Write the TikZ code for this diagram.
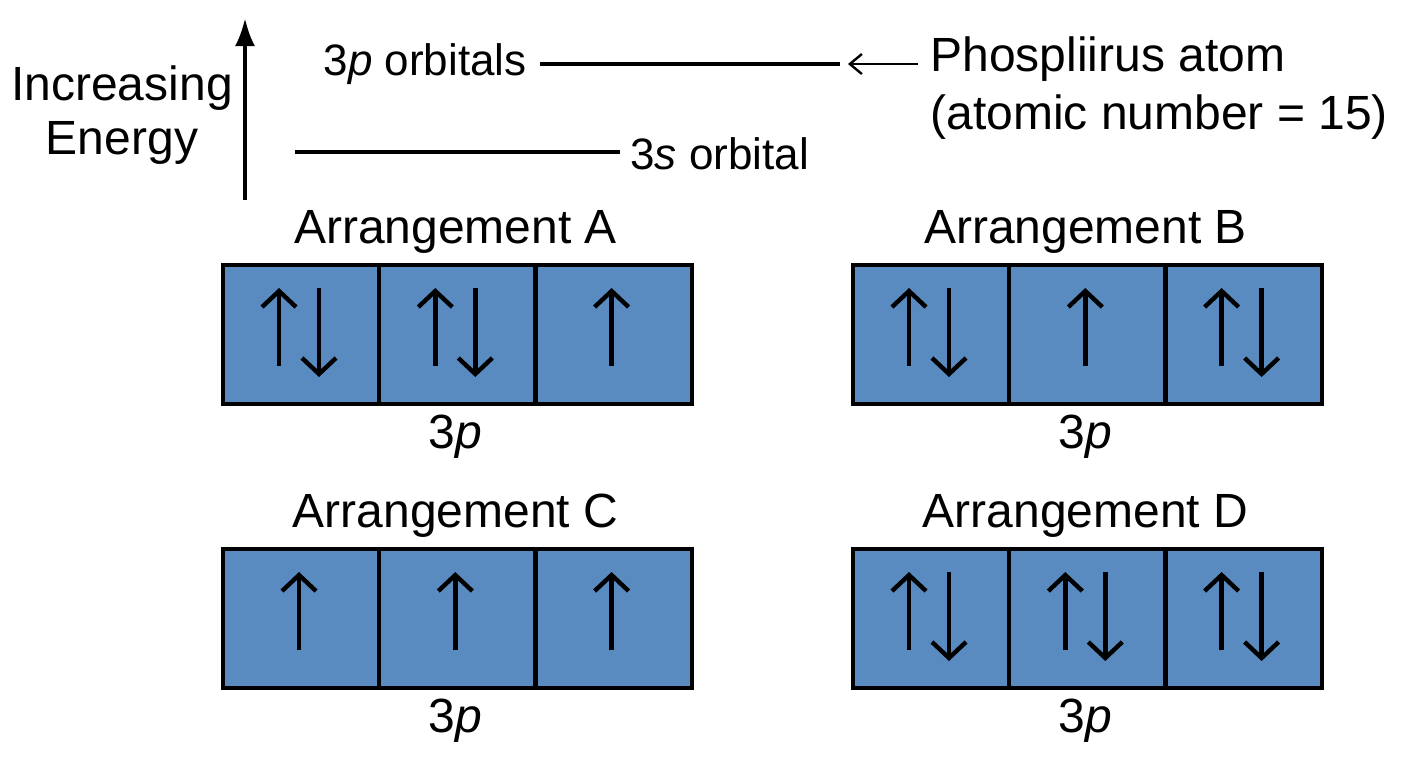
\documentclass[tikz,border=0pt]{standalone}
\usepackage{fontspec}
\setmainfont{Liberation Sans}
\usetikzlibrary{arrows.meta}
\definecolor{orb}{HTML}{5A8BC0}
\begin{document}
\begin{tikzpicture}[x=0.5pt,y=-0.5pt,
  lbl/.style={font=\fontsize{24}{26}\selectfont,inner sep=0pt},
  sml/.style={font=\fontsize{22}{24}\selectfont,inner sep=0pt},
  box/.style={draw=black,line width=2pt,fill=orb,minimum width=78pt,minimum height=69.5pt,inner sep=0pt},
  spin/.style={line width=2.2pt,-{Straight Barb[length=8pt,width=17pt,line width=2.2pt]}},
  lev/.style={line width=1.6pt}]
\useasboundingbox (0,0) rectangle (1408,768);
% energy axis
\coordinate (eb) at (245,200); \coordinate (et) at (245,18);
\draw[line width=2pt,-{Latex[length=14pt,width=10pt]}] (eb) -- (et);
\node[lbl,align=center] (en) at (122,115) {Increasing\\[1pt]Energy};
% levels
\node[sml,anchor=east] (p3) at (527,64) {3\textit{p} orbitals};
\coordinate (p3a) at (540,64); \coordinate (p3b) at (840,64);
\draw[lev] (p3a) -- (p3b);
\coordinate (s3a) at (295,152); \coordinate (s3b) at (620,152);
\draw[lev] (s3a) -- (s3b);
\node[sml,anchor=west] (s3) at (630,154) {3\textit{s} orbital};
\node[lbl,anchor=west,align=left] (ph) at (930,88) {Phospliirus atom\\[3pt](atomic number = 15)};
\coordinate (pa) at (918,64);
\draw[line width=1.2pt,-{Straight Barb[length=6pt,width=10pt]}] (pa) -- (848,64);
% arrangements
\foreach \nm/\x/\y/\lab/\cfg in {A/221/263/A/{2,2,1},B/851/263/B/{2,1,2},C/221/547/C/{1,1,1},D/851/547/D/{2,2,2}}{
  \node[lbl] (t\nm) at (\x+234.5,\y-31) {Arrangement \lab};
  \node[lbl] (q\nm) at (\x+234.5,\y+174) {3\textit{p}};
  \foreach \k [count=\i from 0] in \cfg {
    \node[box,anchor=north west] (b\nm\i) at (\x+\i*156.3,\y) {};
    \pgfmathsetmacro{\cx}{\x+\i*156.3+78}
    \ifnum\k=2
      \draw[spin] (\cx-20,\y+103) -- (\cx-20,\y+25);
      \draw[spin] (\cx+20,\y+25) -- (\cx+20,\y+114);
    \else
      \draw[spin] (\cx,\y+103) -- (\cx,\y+25);
    \fi
  }
}
\end{tikzpicture}
\end{document}
